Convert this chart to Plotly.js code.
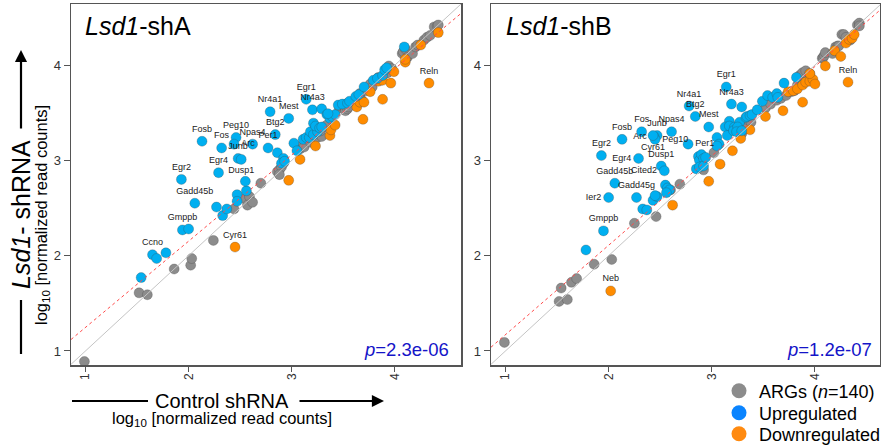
<!DOCTYPE html>
<html><head><meta charset="utf-8">
<script src="https://cdn.plot.ly/plotly-3.0.1.min.js"></script>
<style>html,body{margin:0;padding:0;background:#fff;overflow:hidden}#chart{width:881px;height:447px}</style>
</head><body><div id="chart"></div>
<script>
// ---------------- DATA ----------------
// Panel A (Lsd1-shA): x = control shRNA, y = Lsd1 shRNA, log10 normalized read counts
const grayA_x = [0.99,1.52,1.60,1.86,2.02,2.03,2.24,2.44,2.54,2.59,2.57,2.62,2.70,2.86,2.88,2.90,2.92,2.88,3.08,3.11,3.12,3.16,3.18,3.25,3.26,3.28,3.29,3.28,3.31,3.34,3.46,3.48,3.50,3.52,3.54,3.55,3.65,3.66,3.68,3.66,3.72,3.74,3.76,3.76,3.78,3.84,3.86,3.92,3.93,3.94,3.96,3.97,4.07,4.08,4.10,4.12,4.17,4.20,4.22,4.28,4.31,4.34,4.38,4.41,4.42];
const grayA_y = [0.89,1.61,1.59,1.86,1.90,1.97,2.16,2.49,2.60,2.62,2.53,2.56,2.76,2.88,2.90,2.93,2.97,2.85,3.12,3.17,3.14,3.24,3.19,3.24,3.28,3.32,3.25,3.31,3.35,3.37,3.55,3.57,3.58,3.52,3.54,3.56,3.67,3.70,3.63,3.66,3.73,3.76,3.79,3.80,3.77,3.87,3.84,3.92,3.92,3.99,3.96,3.96,4.12,4.14,4.17,4.08,4.12,4.19,4.21,4.26,4.29,4.31,4.40,4.41,4.42];

const upA_lab = ["Egr1","Nr4a3","Nr4a1","Mest","Btg2","Peg10","Npas4","Arc","Fosb","Fos","Per1","Junb","Dusp1","Egr4","Egr2","Gadd45b","Gmppb","Ccno",
  "","","","","","","","","","","","","","","","","","","","","","","","","","","","","","","","","","","","","","","","","","","","","",""];
const upA_x = [3.14,3.20,2.79,2.97,2.84,2.46,2.62,2.44,2.13,2.32,2.77,2.48,2.51,2.29,1.93,2.06,1.94,1.65,
  2.00,1.69,1.78,1.54,2.27,2.33,2.37,2.47,2.47,2.56,2.55,2.86,2.92,2.90,2.93,3.02,3.05,3.11,3.14,3.17,3.18,3.21,3.25,3.21,3.23,3.27,3.29,3.29,3.34,3.37,3.39,3.42,3.35,3.45,3.49,3.54,3.56,3.62,3.65,3.70,3.79,3.83,3.88,3.90,3.92,4.09];
const upA_y = [3.64,3.53,3.51,3.44,3.27,3.24,3.17,3.17,3.20,3.13,3.13,3.02,3.01,2.87,2.80,2.55,2.27,2.01,
  2.28,1.97,2.03,1.77,2.51,2.42,2.49,2.64,2.57,2.68,2.78,3.08,3.02,2.97,2.99,3.18,3.10,3.22,3.24,3.24,3.30,3.27,3.30,3.39,3.36,3.34,3.35,3.54,3.48,3.44,3.46,3.48,3.49,3.58,3.59,3.60,3.62,3.67,3.69,3.77,3.84,3.86,3.89,3.95,3.97,4.19];

const downA_lab = ["Cyr61","Reln","","","","","","","","","","","","","","","","","","","",""];
const downA_x = [2.45,4.33,2.97,3.08,3.23,3.37,3.38,3.42,3.63,3.66,3.70,3.69,3.88,3.76,3.84,3.88,3.96,3.99,4.10,4.10,4.25,4.42];
const downA_y = [2.09,3.81,2.79,3.01,3.15,3.26,3.32,3.37,3.56,3.61,3.61,3.43,3.64,3.72,3.83,3.84,3.81,3.93,4.03,4.06,4.21,4.34];

// Panel B (Lsd1-shB)
const grayB_x = [0.99,1.52,1.60,1.54,1.64,1.69,1.86,2.03,2.25,2.46,2.60,2.69,2.92,3.02,3.29,3.30,3.35,3.34,3.38,3.52,3.57,3.63,3.67,3.72,3.77,3.80,3.83,3.88,3.85,3.88,3.91,3.95,4.07,4.08,4.09,4.10,4.17,4.20,4.22,4.23,4.26,4.28,4.30,4.34,4.41,4.43,4.43];
const grayB_y = [1.09,1.52,1.54,1.66,1.72,1.76,1.91,1.96,2.34,2.41,2.69,2.75,2.90,3.08,3.28,3.31,3.36,3.43,3.40,3.55,3.59,3.63,3.65,3.68,3.72,3.73,3.79,3.84,3.89,3.92,3.94,3.91,4.07,4.08,4.10,4.13,4.12,4.19,4.20,4.20,4.32,4.32,4.29,4.26,4.42,4.44,4.41];

const upB_lab = ["Egr1","Nr4a3","Nr4a1","Btg2","Mest","Fos","Junb","Arc","Npas4","Peg10","Cyr61","Fosb","Per1","Egr2","Egr4","Dusp1","Cited2","Gadd45b","Gadd45g","Ier2","Gmppb",
  "","","","","","","","","","","","","","","","","","","","","","","","","","","","","","","","","","","","","","",""];
const upB_x = [3.14,3.19,2.78,2.84,2.97,2.32,2.47,2.44,2.61,2.45,2.43,2.13,2.77,1.93,2.29,2.51,2.54,2.06,2.27,2.00,1.95,
  1.78,2.33,2.37,2.43,2.47,2.45,2.55,2.57,2.59,2.56,2.87,2.88,2.90,2.92,2.85,2.88,2.92,2.94,3.05,3.07,3.05,3.17,3.13,3.17,3.22,3.15,3.21,3.27,3.25,3.24,3.29,3.33,3.34,3.37,3.39,3.44,3.49,3.54,3.59,3.63,3.64,3.70,3.82,3.29];
const upB_y = [3.77,3.59,3.57,3.46,3.35,3.30,3.26,3.25,3.30,3.22,3.26,3.22,3.17,3.05,3.02,2.94,2.89,2.76,2.61,2.61,2.26,
  2.06,2.49,2.48,2.58,2.62,2.63,2.74,2.71,2.69,2.66,3.04,3.00,3.06,3.02,2.91,2.93,2.94,3.03,3.24,3.17,3.15,3.41,3.35,3.36,3.35,3.26,3.31,3.40,3.35,3.30,3.31,3.45,3.46,3.47,3.48,3.53,3.62,3.68,3.66,3.70,3.66,3.81,3.87,3.56];

const downB_lab = ["Neb","Reln","","","","","","","","","","","","","","","","","","","","","","","","",""];
const downB_x = [2.02,4.32,2.62,2.97,3.08,3.20,3.28,3.37,3.52,3.69,3.88,3.74,3.79,3.83,3.88,3.91,3.95,3.98,3.95,4.00,4.10,4.19,4.25,4.30,4.33,4.36,4.38];
const downB_y = [1.63,3.82,2.53,2.78,2.96,3.10,3.23,3.32,3.46,3.52,3.61,3.72,3.73,3.75,3.79,3.82,3.83,3.85,3.91,3.80,3.99,4.15,4.09,4.23,4.27,4.28,4.32];

// fitted regression lines (intercept, slope)
const fitIntercept = [0.342, 0.233];
const fitSlope = [0.905, 0.938];
const pValues = ["2.3e-06", "1.2e-07"];
const panelTitles = ["<i>Lsd1</i>-shA", "<i>Lsd1</i>-shB"];
const tickVals = [1, 2, 3, 4];
const legendNames = ["ARGs (<i>n</i>=140)", "Upregulated", "Downregulated"];

// ---------------- STYLE ----------------
const FONT = "Liberation Sans, Arial, sans-serif";
const C_GRAY = "#8c8c8c", C_UP = "#00aff0", C_DOWN = "#ff8c00";
const W = 881, H = 447;
const X = px => px / W, Y = py => 1 - py / H;
const xr = [[0.86, 4.64], [0.86, 4.63]];
const yr = [0.853, 4.64];

const posA = {Arc: "middle right", Dusp1: "bottom center"};
const posB = {Arc: "middle left", Peg10: "middle right", Cyr61: "bottom center", Per1: "middle right", Egr4: "middle left", Cited2: "middle left", Ier2: "middle left"};

function pts(x, y, color, xa, ya, labels, posMap) {
  const t = {
    type: "scatter", x: x, y: y, xaxis: xa, yaxis: ya, showlegend: false, hoverinfo: "skip",
    mode: labels ? "markers+text" : "markers",
    marker: {size: 10, color: color, line: {width: 0.6, color: "rgba(60,60,60,0.45)"}},
    cliponaxis: false
  };
  if (labels) {
    t.text = labels;
    t.textposition = labels.map(l => posMap[l] || "top center");
    t.textfont = {family: FONT, size: 9, color: "#222"};
  }
  return t;
}
function lines(i, xa, ya) {
  const r = xr[i];
  return [
    {type: "scatter", mode: "lines", x: r, y: r, xaxis: xa, yaxis: ya, showlegend: false, hoverinfo: "skip",
     line: {color: "#c4c4c4", width: 1}},
    {type: "scatter", mode: "lines", x: r, y: r.map(v => fitIntercept[i] + fitSlope[i] * v), xaxis: xa, yaxis: ya,
     showlegend: false, hoverinfo: "skip", line: {color: "#ff4a4a", width: 1, dash: "3px,3px"}}
  ];
}

const data = [
  pts(grayA_x, grayA_y, C_GRAY, "x", "y"),
  pts(downA_x, downA_y, C_DOWN, "x", "y", downA_lab, posA),
  pts(upA_x, upA_y, C_UP, "x", "y", upA_lab, posA),
  ...lines(0, "x", "y"),
  pts(grayB_x, grayB_y, C_GRAY, "x2", "y2"),
  pts(downB_x, downB_y, C_DOWN, "x2", "y2", downB_lab, posB),
  pts(upB_x, upB_y, C_UP, "x2", "y2", upB_lab, posB),
  ...lines(1, "x2", "y2"),
];
const legColors = ["#8c8c8c", "#0a84ff", "#ff8a10"];
const legIds = ["legend", "legend2", "legend3"];
legendNames.forEach((n, i) => data.push({type: "scatter", mode: "markers", x: [null], y: [null], name: n,
  legend: legIds[i], showlegend: true, marker: {size: 15, color: legColors[i]}, hoverinfo: "skip"}));

function xaxis(i, dom, anchor) {
  return {domain: dom, range: xr[i], anchor: anchor, tickvals: tickVals, ticks: "outside", ticklen: 5, tickwidth: 1,
    tickcolor: "#555", tickangle: -90, ticklabelstandoff: -3, showgrid: false, zeroline: false, showline: true, mirror: true,
    linecolor: "#555", linewidth: 1.5, tickfont: {family: FONT, size: 12, color: "#333"}, fixedrange: true, automargin: false};
}
function yaxis(dom, anchor) {
  return {domain: dom, range: yr, anchor: anchor, tickvals: tickVals, ticks: "outside", ticklen: 6, tickwidth: 1,
    tickcolor: "#555", showgrid: false, zeroline: false, showline: true, mirror: true,
    linecolor: "#555", linewidth: 1.5, tickfont: {family: FONT, size: 13, color: "#333"}, fixedrange: true, automargin: false};
}
const ydom = [(H - 365) / H, (H - 4) / H];

function txt(px, py, text, size, extra) {
  return Object.assign({xref: "paper", yref: "paper", x: X(px), y: Y(py), xanchor: "center", yanchor: "middle",
    text: text, showarrow: false, font: {family: FONT, size: size, color: "#000"}}, extra || {});
}
const ann = [];
panelTitles.forEach((t, i) => ann.push(txt(i ? 504 : 83, 26, t, 25, {xanchor: "left"})));
pValues.forEach((p, i) => ann.push(txt(i ? 874 : 451, 349, "<i>p</i>=" + p, 18.5, {xanchor: "right", font: {family: FONT, size: 18.5, color: "#1414c8"}})));
// axis labels
ann.push(txt(222, 401, "Control shRNA", 20));
ann.push(txt(222, 419, "log<sub>10</sub> [normalized read counts]", 16.5));
ann.push(txt(21, 215, "<i>Lsd1</i>- shRNA", 25, {textangle: -90}));
ann.push(txt(42, 215, "log<sub>10</sub> [normalized read counts]", 16.5, {textangle: -90}));
// arrows
ann.push({xref: "paper", yref: "paper", x: X(384), y: Y(401), ax: -86, ay: 0, text: "", showarrow: true, arrowhead: 2, arrowsize: 1.1, arrowwidth: 2.2, arrowcolor: "#000"});
ann.push({xref: "paper", yref: "paper", x: X(21), y: Y(50), ax: 0, ay: 80, text: "", showarrow: true, arrowhead: 2, arrowsize: 1.1, arrowwidth: 2.2, arrowcolor: "#000"});

const shapes = [
  {type: "line", xref: "paper", yref: "paper", x0: X(72), x1: X(148), y0: Y(401), y1: Y(401), line: {color: "#000", width: 2.2}},
  {type: "line", xref: "paper", yref: "paper", x0: X(21), x1: X(21), y0: Y(354), y1: Y(300), line: {color: "#000", width: 2.2}}
];

const legendRows = [391, 413, 434];
function leg(py) {
  return {x: X(719), y: Y(py), xanchor: "left", yanchor: "middle", font: {family: FONT, size: 18, color: "#000"},
    bgcolor: "rgba(0,0,0,0)", borderwidth: 0, itemclick: false, itemdoubleclick: false};
}

const layout = {
  width: W, height: H, margin: {l: 0, r: 0, t: 0, b: 0, pad: 0, autoexpand: false}, paper_bgcolor: "#fff", plot_bgcolor: "#fff",
  font: {family: FONT},
  xaxis: xaxis(0, [71 / W, 461 / W], "y"),
  yaxis: yaxis(ydom, "x"),
  xaxis2: xaxis(1, [491 / W, 880 / W], "y2"),
  yaxis2: yaxis(ydom, "x2"),
  showlegend: true,
  legend: leg(legendRows[0]), legend2: leg(legendRows[1]), legend3: leg(legendRows[2]),
  annotations: ann, shapes: shapes
};
Plotly.newPlot("chart", data, layout, {staticPlot: true, displayModeBar: false});
</script></body></html>
